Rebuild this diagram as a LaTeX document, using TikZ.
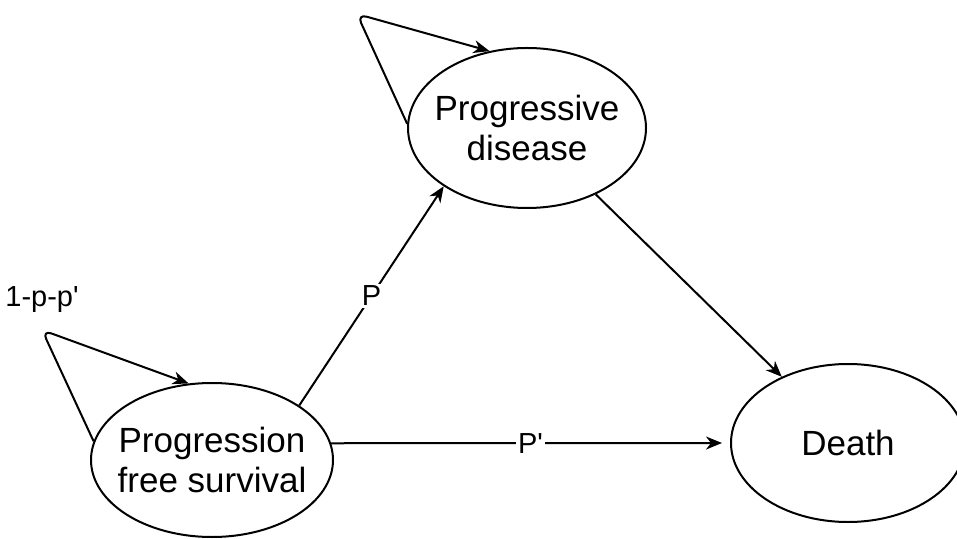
\documentclass[tikz,border=0pt]{standalone}
\usepackage{fontspec}
\setmainfont{Liberation Sans}
\usetikzlibrary{arrows.meta,positioning,shapes.geometric}

\tikzset{
  state/.style={draw, ellipse, line width=1pt, inner xsep=-6pt, align=center,
    font=\fontsize{17.5}{20}\selectfont},
  trans/.style={-{Stealth[length=8pt,width=6.5pt,inset=2.5pt]}, line width=1pt},
  problabel/.style={fill=white, inner sep=1pt, font=\fontsize{14.5}{16}\selectfont},
}

\begin{document}
\begin{tikzpicture}[x=0.5pt, y=-0.5pt]
    \useasboundingbox (0,0) rectangle (957,539);
    \clip (0,0) rectangle (957,539);

    % States
    \node[state, minimum width=119pt, minimum height=80pt] (pd) at (527,128) {Progressive\\disease};
    \node[state, minimum width=121pt, minimum height=77pt] (pfs) at (212,460) {Progression\\free survival};
    \node[state, minimum width=117pt, minimum height=79pt] (death) at (848,443) {Death};

    % Transitions between states
    \draw[trans] (pfs.32) -- node[problabel] {P} (pd.215);
    \draw[trans, shorten >=4pt] (pfs.8) -- node[problabel] {P\textquotesingle} (death.west);
    \draw[trans] (pd.316) -- (death.135);

    % Staying in the same state
    \coordinate (pdcorner) at (357,14);
    \draw[trans, rounded corners=5pt] (pd.178) -- (pdcorner) -- (pd.116);
    \coordinate (pfscorner) at (42,330);
    \draw[trans, rounded corners=5pt] (pfs.171) -- (pfscorner) -- (pfs.107);
    \node[problabel, fill=none] (staylabel) at (42,300) {1-p-p\textquotesingle};
\end{tikzpicture}
\end{document}
